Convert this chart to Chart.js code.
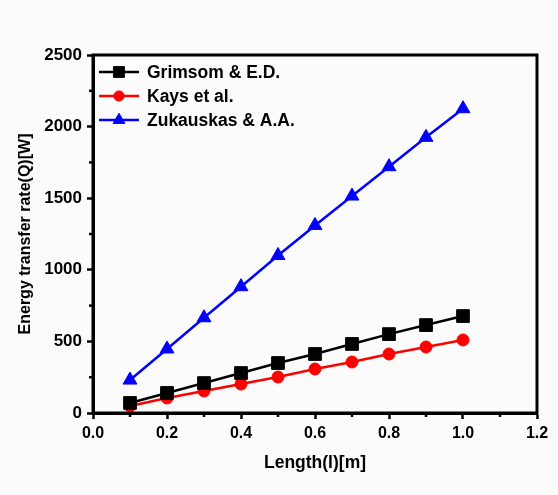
<!DOCTYPE html>
<html>
<head>
<meta charset="utf-8">
<script src="https://cdn.jsdelivr.net/npm/chart.js@4"></script>
<style>
html,body{margin:0;padding:0;background:#fbfbfb;}
#wrap{width:558px;height:495px;position:relative;}
</style>
</head>
<body>
<div id="wrap"><canvas id="c" width="558" height="495"></canvas></div>
<script>
const lengths = [0.1, 0.2, 0.3, 0.4, 0.5, 0.6, 0.7, 0.8, 0.9, 1.0];
const grimsom = [70, 140, 209, 279, 349, 412, 482, 551, 614, 677];
const kays = [49, 105, 154, 202, 251, 307, 356, 412, 461, 510];
const zukauskas = [230, 447, 665, 882, 1100, 1310, 1515, 1720, 1925, 2125];
const seriesNames = ['Grimsom & E.D.', 'Kays et al.', 'Zukauskas & A.A.'];
const xTitle = 'Length(l)[m]';
const yTitle = 'Energy transfer rate(Q)[W]';

const FONT = "'Liberation Sans', Arial, sans-serif";

function pts(ys){ return lengths.map((x,i)=>({x:x,y:ys[i]})); }

const frameAndMinor = {
  id:'frameAndMinor',
  afterDraw(chart){
    const ctx = chart.ctx, a = chart.chartArea;
    ctx.save();
    ctx.strokeStyle = '#000';
    ctx.lineWidth = 3;
    ctx.strokeRect(a.left, a.top, a.right - a.left, a.bottom - a.top);
    ctx.lineWidth = 2.5;
    const xs = chart.scales.x, ys = chart.scales.y;
    for (let i=0;i<xs.ticks.length-1;i++){
      const v = (xs.ticks[i].value + xs.ticks[i+1].value)/2;
      const px = xs.getPixelForValue(v);
      ctx.beginPath(); ctx.moveTo(px, a.bottom); ctx.lineTo(px, a.bottom+4); ctx.stroke();
    }
    for (let i=0;i<ys.ticks.length-1;i++){
      const v = (ys.ticks[i].value + ys.ticks[i+1].value)/2;
      const py = ys.getPixelForValue(v);
      ctx.beginPath(); ctx.moveTo(a.left, py); ctx.lineTo(a.left-4, py); ctx.stroke();
    }
    // legend
    const ds = chart.data.datasets;
    const lx = a.left + 6, rowY = [72, 96, 120];
    ds.forEach((d,i)=>{
      const y = rowY[i];
      ctx.strokeStyle = d.borderColor; ctx.lineWidth = 2.5;
      ctx.beginPath(); ctx.moveTo(lx, y); ctx.lineTo(lx+40, y); ctx.stroke();
      ctx.fillStyle = d.pointBackgroundColor;
      ctx.strokeStyle = d.pointBorderColor;
      ctx.lineWidth = 1;
      Chart.helpers.drawPoint(ctx, {pointStyle:d.pointStyle, radius:d.pointRadius*0.85, borderWidth:1, rotation:0}, lx+20, y);
      ctx.fillStyle = '#000';
      ctx.font = "bold 17.5px " + FONT;
      ctx.textBaseline = 'middle';
      ctx.textAlign = 'left';
      ctx.fillText(d.label, lx+48, y+1);
    });
    ctx.restore();
  }
};

function mkDs(label, ys, color, style, r){
  return {
    label: label, data: pts(ys), showLine: true,
    borderColor: color, backgroundColor: color, borderWidth: 2.5,
    pointStyle: style, pointRadius: r, pointHoverRadius: r,
    pointBackgroundColor: color, pointBorderColor: color, pointBorderWidth: 1
  };
}

new Chart(document.getElementById('c'), {
  type: 'scatter',
  data: {
    datasets: [
      mkDs(seriesNames[0], grimsom, '#000000', 'rect', 9),
      mkDs(seriesNames[1], kays, '#ff0000', 'circle', 6),
      mkDs(seriesNames[2], zukauskas, '#0000ff', 'triangle', 8)
    ]
  },
  options: {
    responsive: false,
    animation: false,
    layout: { padding: { top: 55, right: 21, left: 0, bottom: 0 } },
    plugins: { legend: { display: false }, tooltip: { enabled: false } },
    scales: {
      x: {
        type: 'linear', min: 0, max: 1.2,
        afterFit(s){ s.height = 82; },
        ticks: { stepSize: 0.2, autoSkip: false, color: '#000', padding: 5,
          font: { family: FONT, size: 16, weight: 'bold' },
          callback: v => v.toFixed(1) },
        grid: { drawOnChartArea: false, drawTicks: true, tickLength: 6, tickWidth: 2.5, color: '#000' },
        border: { display: true, color: '#000', width: 3 },
        title: { display: true, text: xTitle, color: '#000', padding: { top: 21, bottom: 21 },
          font: { family: FONT, size: 17.5, weight: 'bold' } }
      },
      y: {
        type: 'linear', min: 0, max: 2500,
        afterFit(s){ s.width = 93; },
        ticks: { stepSize: 500, autoSkip: false, color: '#000', padding: 5,
          font: { family: FONT, size: 17, weight: 'bold' },
          callback: v => String(v) },
        grid: { drawOnChartArea: false, drawTicks: true, tickLength: 6, tickWidth: 2.5, color: '#000' },
        border: { display: true, color: '#000', width: 3 },
        title: { display: true, text: yTitle, color: '#000', padding: { top: 16, bottom: 16 },
          font: { family: FONT, size: 16, weight: 'bold' } }
      }
    }
  },
  plugins: [frameAndMinor]
});
</script>
</body>
</html>
